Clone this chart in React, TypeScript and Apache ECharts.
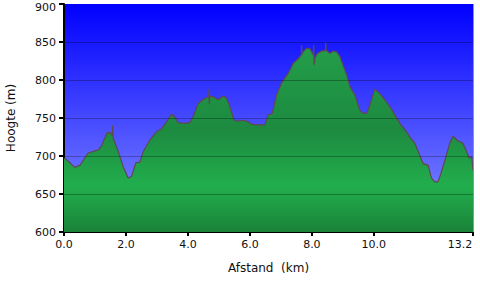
import React, { useEffect, useRef } from "react";
import * as echarts from "echarts";

const distances = [
  0.0, 0.06, 0.35, 0.52, 0.78, 0.95, 1.11, 1.22, 1.38, 1.48, 1.56, 1.57, 1.58, 1.59, 1.75, 1.91, 2.07, 2.18,
  2.32, 2.45, 2.56, 2.77, 2.99, 3.15, 3.31, 3.47, 3.58, 3.69, 3.9, 4.06, 4.17, 4.33, 4.45, 4.55,
  4.67, 4.68, 4.69, 4.71, 4.87, 4.97, 5.14, 5.25, 5.35, 5.49, 5.62, 5.78, 5.95, 6.05, 6.22, 6.48,
  6.59, 6.72, 6.86, 7.02, 7.24, 7.4, 7.56, 7.66, 7.67, 7.68, 7.72, 7.83, 7.94, 8.04, 8.06, 8.07,
  8.1, 8.18, 8.31, 8.44, 8.45, 8.46, 8.47, 8.58, 8.69, 8.8, 8.9, 9.12, 9.23, 9.39, 9.55, 9.66,
  9.77, 9.87, 10.03, 10.19, 10.41, 10.62, 10.84, 11.05, 11.16, 11.32, 11.48, 11.59, 11.75, 11.86,
  11.97, 12.07, 12.18, 12.34, 12.45, 12.55, 12.71, 12.87, 12.97, 13.08, 13.16, 13.2,
];

const elevations = [
  697, 696, 685, 688, 704, 706, 708, 714, 730, 731, 727, 740, 726, 723, 706, 686, 671, 673,
  691, 692, 706, 721, 732, 736, 745, 755, 751, 744, 743, 744, 752, 769, 773, 776,
  778, 788, 768, 779, 777, 774, 779, 776, 765, 747, 746, 747, 745, 742, 741, 741,
  754, 756, 780, 796, 809, 822, 828, 833, 846, 834, 837, 842, 841, 833, 846, 820,
  829, 835, 838, 839, 849, 838, 839, 835, 838, 837, 831, 807, 791, 780, 760, 756,
  756, 767, 788, 782, 771, 758, 743, 732, 725, 717, 701, 690, 688, 671,
  666, 666, 679, 701, 717, 726, 720, 717, 708, 697, 699, 681,
];

const xTickValues = [0, 2, 4, 6, 8, 10, 13.2];
const gridValues = [650, 700, 750, 800, 850];
const xAxisName = "Afstand  (km)";
const yAxisName = "Hoogte (m)";

export default function App() {
  const ref = useRef<HTMLDivElement>(null);

  useEffect(() => {
    if (!ref.current) return;
    const chart = echarts.init(ref.current, undefined, { renderer: "svg" });
    const points = distances.map((d, i) => [d, elevations[i]]);
    const font = "DejaVu Sans";
    const labelRich = { fontFamily: font, fontSize: 11, color: "#111" };
    chart.setOption({
      animation: false,
      textStyle: { fontFamily: font },
      grid: {
        left: 64,
        right: 7,
        top: 4,
        bottom: 50,
        outerBoundsMode: "none",
        containLabel: false,
        show: true,
        borderWidth: 0,
        backgroundColor: new echarts.graphic.LinearGradient(0, 0, 0, 1, [
          { offset: 0, color: "#0000ff" },
          { offset: 1, color: "#8a92ff" },
        ]),
      },
      xAxis: {
        type: "value",
        min: 0,
        max: 13.2,
        name: xAxisName,
        nameLocation: "middle",
        nameGap: 30,
        nameTextStyle: { fontFamily: font, fontSize: 12, color: "#111" },
        axisLine: { show: true, lineStyle: { color: "#000", width: 2 } },
        axisTick: {
          show: true,
          customValues: xTickValues,
          length: 4,
          lineStyle: { color: "#000", width: 2 },
        },
        axisLabel: {
          customValues: xTickValues,
          formatter: (v: number) =>
            v === 13.2 ? "{last|" + v.toFixed(1) + "}" : v.toFixed(1),
          rich: { last: { ...labelRich, padding: [0, 26, 0, 0] } },
          fontFamily: font,
          fontSize: 11,
          color: "#111",
          margin: 7,
        },
        splitLine: { show: false },
      },
      yAxis: {
        type: "value",
        min: 600,
        max: 900,
        interval: 50,
        name: yAxisName,
        nameLocation: "middle",
        nameGap: 47,
        nameRotate: 90,
        nameTextStyle: { fontFamily: font, fontSize: 12, color: "#111" },
        axisLine: { show: true, lineStyle: { color: "#000", width: 2 } },
        axisTick: { show: true, length: 5, lineStyle: { color: "#000", width: 2 } },
        axisLabel: {
          formatter: (v: number) => (v === 900 ? "{top|" + v + "}" : String(v)),
          rich: { top: { ...labelRich, padding: [6, 0, 0, 0] } },
          fontFamily: font,
          fontSize: 11,
          color: "#111",
          margin: 8,
        },
        splitLine: { show: false },
      },
      series: [
        {
          type: "line",
          data: points,
          symbol: "none",
          smooth: false,
          lineStyle: { color: "#5e4a4e", width: 1.2 },
          areaStyle: {
            origin: "start",
            opacity: 1,
            color: new echarts.graphic.LinearGradient(
              0,
              4,
              0,
              232,
              [
                { offset: 0, color: "#26a84e" },
                { offset: 0.55, color: "#1d8a40" },
                { offset: 0.8, color: "#22ae4d" },
                { offset: 1, color: "#1a8238" },
              ],
              true
            ),
          },
          markLine: {
            silent: true,
            symbol: "none",
            label: { show: false },
            lineStyle: { color: "rgba(0,0,0,0.28)", width: 1, type: "solid" },
            data: [
              ...gridValues.map((v) => ({ yAxis: v })),
              { xAxis: 13.2, lineStyle: { color: "#44cc55", width: 1, type: "solid" } },
            ],
          },
          z: 2,
        },
      ],
    });
    return () => chart.dispose();
  }, []);

  return (
    <div
      ref={ref}
      style={{ position: "fixed", left: 0, top: 0, width: 480, height: 282, background: "#fff" }}
    />
  );
}
